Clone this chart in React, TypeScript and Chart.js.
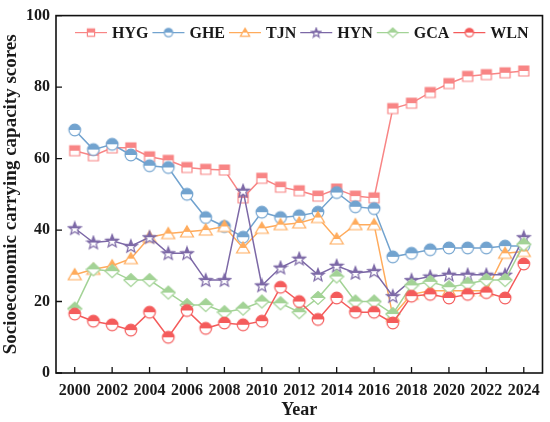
import { useEffect, useRef } from "react";
import { Chart, registerables } from "chart.js";

Chart.register(...registerables);

// Years on the x axis
const years = [
  2000, 2001, 2002, 2003, 2004, 2005, 2006, 2007, 2008, 2009, 2010, 2011, 2012,
  2013, 2014, 2015, 2016, 2017, 2018, 2019, 2020, 2021, 2022, 2023, 2024,
];
const xTickYears = [2000, 2002, 2004, 2006, 2008, 2010, 2012, 2014, 2016, 2018, 2020, 2022, 2024];
const yTickValues = [0, 20, 40, 60, 80, 100];

// Series values
const HYG = [62.2, 60.8, 63, 63, 60.5, 59.5, 57.5, 57, 56.8, 49, 54.5, 52, 51, 49.5, 51.5, 49.5, 49, 74, 75.5, 78.5, 81, 83, 83.5, 84, 84.5];
const GHE = [68, 62.5, 64, 61, 58, 57.5, 50, 43.5, 41, 38, 45, 43.5, 44, 45, 50.5, 46.5, 46, 32.5, 33.5, 34.5, 35, 35, 35, 35.5, 35.5];
const TJN = [27.5, 29, 30, 32, 38, 39, 39.5, 40, 41, 35, 40.5, 41.5, 42, 43.5, 37.5, 41.5, 41.5, 16, 22, 23, 23, 23, 23, 33.5, 34];
const HYN = [40.5, 36.5, 37, 35.5, 38, 33.5, 33.5, 26, 26, 51, 24.5, 29.5, 32, 27.5, 30, 28, 28.5, 21.5, 26, 27, 27.5, 27.5, 27.5, 27.5, 38];
const GCA = [18, 29, 28.5, 26, 26, 22.5, 19, 19, 17, 18, 20, 19.5, 17, 21, 27, 20, 20, 16.5, 24.5, 25.5, 24, 25, 26, 26, 36];
const WLN = [16.5, 14.5, 13.5, 12, 17, 10, 17.5, 12.5, 14, 13.5, 14.5, 24, 20, 15, 21, 17, 17, 14, 21.5, 22, 21, 22, 22.5, 21, 30.5];

const seriesNames = ["HYG", "GHE", "TJN", "HYN", "GCA", "WLN"];
const seriesValues = [HYG, GHE, TJN, HYN, GCA, WLN];
const seriesColors = ["#F88585", "#72A3CF", "#FFAB5C", "#7C68A6", "#A3D396", "#F45B5B"];
const seriesShapes = ["square", "circle", "triangle", "star", "diamond", "circle"];

const FONT = "'Liberation Serif', 'Times New Roman', serif";

// Marker with the upper half filled and the lower half hollow
function makeMarker(shape: string, color: string, k: number) {
  const size = Math.ceil(16 * k);
  const c = document.createElement("canvas");
  c.width = size;
  c.height = size;
  const ctx = c.getContext("2d")!;
  const m = size / 2;
  const p = new Path2D();
  if (shape === "square") {
    const h = 5 * k;
    p.rect(m - h, m - h, h * 2, h * 2);
  } else if (shape === "circle") {
    p.arc(m, m, 5.8 * k, 0, Math.PI * 2);
  } else if (shape === "triangle") {
    p.moveTo(m, m - 6 * k);
    p.lineTo(m + 6.5 * k, m + 5 * k);
    p.lineTo(m - 6.5 * k, m + 5 * k);
    p.closePath();
  } else if (shape === "diamond") {
    p.moveTo(m, m - 6.5 * k);
    p.lineTo(m + 7 * k, m);
    p.lineTo(m, m + 6.5 * k);
    p.lineTo(m - 7 * k, m);
    p.closePath();
  } else {
    const ro = 6.8 * k;
    const ri = 2.9 * k;
    for (let i = 0; i < 10; i++) {
      const r = i % 2 === 0 ? ro : ri;
      const a = -Math.PI / 2 + (i * Math.PI) / 5;
      const px = m + r * Math.cos(a);
      const py = m + 0.5 * k + r * Math.sin(a);
      if (i === 0) p.moveTo(px, py);
      else p.lineTo(px, py);
    }
    p.closePath();
  }
  ctx.fillStyle = "#ffffff";
  ctx.fill(p);
  ctx.save();
  ctx.beginPath();
  ctx.rect(0, 0, size, m);
  ctx.clip();
  ctx.fillStyle = color;
  ctx.fill(p);
  ctx.restore();
  ctx.strokeStyle = color;
  ctx.lineWidth = 1.2;
  ctx.stroke(p);
  return c;
}

// Frame, inward ticks and the line legend inside the plot
const decorPlugin = {
  id: "decor",
  afterDraw(chart: any) {
    const ctx = chart.ctx;
    const { left, right, top, bottom } = chart.chartArea;
    const xs = chart.scales.x;
    const ys = chart.scales.y;
    ctx.save();
    ctx.strokeStyle = "#111";
    ctx.lineWidth = 1.6;
    ctx.strokeRect(left, top, right - left, bottom - top);
    ctx.lineWidth = 1.3;
    ctx.beginPath();
    xTickYears.forEach((v) => {
      const px = xs.getPixelForValue(v);
      ctx.moveTo(px, bottom);
      ctx.lineTo(px, bottom - 6);
    });
    yTickValues.forEach((v) => {
      const py = ys.getPixelForValue(v);
      ctx.moveTo(left, py);
      ctx.lineTo(left + 6, py);
    });
    ctx.stroke();

    // legend
    ctx.font = `bold 16px ${FONT}`;
    ctx.textBaseline = "middle";
    let x = left + 19;
    const y = top + 17;
    chart.data.datasets.forEach((ds: any, i: number) => {
      ctx.strokeStyle = ds.borderColor;
      ctx.lineWidth = 1.2;
      ctx.beginPath();
      ctx.moveTo(x, y);
      ctx.lineTo(x + 32, y);
      ctx.stroke();
      const img = legendMarkers[i];
      ctx.drawImage(img, x + 16 - img.width / 2, y - img.height / 2);
      x += 37;
      ctx.fillStyle = "#1a1a1a";
      ctx.fillText(ds.label, x, y + 1);
      x += ctx.measureText(ds.label).width + 4;
    });
    ctx.restore();
  },
};

let legendMarkers: HTMLCanvasElement[] = [];

export default function App() {
  const chartRef = useRef<HTMLCanvasElement>(null);
  const chartInstance = useRef<Chart | null>(null);

  useEffect(() => {
    document.body.style.margin = "0";
    if (!chartRef.current) return;
    if (chartInstance.current) chartInstance.current.destroy();

    legendMarkers = seriesShapes.map((s, i) => makeMarker(s, seriesColors[i], 0.72));

    const datasets = seriesNames.map((name, i) => ({
      label: name,
      data: years.map((yr, j) => ({ x: yr, y: seriesValues[i][j] })),
      borderColor: seriesColors[i],
      backgroundColor: seriesColors[i],
      borderWidth: 1.5,
      pointStyle: makeMarker(seriesShapes[i], seriesColors[i], 1),
      pointRadius: 6,
      tension: 0,
      order: seriesNames.length - i,
    }));

    const ctx = chartRef.current.getContext("2d");
    if (ctx) {
      chartInstance.current = new Chart(ctx, {
        type: "line",
        data: { datasets },
        options: {
          responsive: true,
          maintainAspectRatio: false,
          animation: false,
          layout: { padding: { top: 12, right: 6, left: 0, bottom: 0 } },
          plugins: {
            legend: { display: false },
            tooltip: { enabled: false },
          },
          scales: {
            x: {
              type: "linear",
              min: 1999,
              max: 2025,
              afterBuildTicks: (scale: any) => {
                scale.ticks = xTickYears.map((v) => ({ value: v }));
              },
              afterFit: (scale: any) => {
                scale.height = 49;
              },
              grid: { display: false, drawTicks: false },
              border: { display: false },
              ticks: {
                padding: 8,
                autoSkip: false,
                maxRotation: 0,
                color: "#1a1a1a",
                font: { family: FONT, size: 16, weight: "bold" },
                callback: (v: any) => String(v),
              },
              title: {
                display: true,
                text: "Year",
                color: "#1a1a1a",
                font: { family: FONT, size: 18, weight: "bold", lineHeight: 1 },
                padding: { top: 0, bottom: 3 },
              },
            },
            y: {
              min: 0,
              max: 100,
              afterBuildTicks: (scale: any) => {
                scale.ticks = yTickValues.map((v) => ({ value: v }));
              },
              afterFit: (scale: any) => {
                scale.width = 56;
              },
              grid: { display: false, drawTicks: false },
              border: { display: false },
              ticks: {
                padding: 6,
                color: "#1a1a1a",
                font: { family: FONT, size: 16, weight: "bold" },
              },
              title: {
                display: true,
                text: "Socioeconomic carrying capacity scores",
                color: "#1a1a1a",
                font: { family: FONT, size: 19, weight: "bold", lineHeight: 1.2 },
                padding: { top: 0, bottom: 0 },
              },
            },
          },
        },
        plugins: [decorPlugin],
      });
    }

    return () => {
      if (chartInstance.current) {
        chartInstance.current.destroy();
        chartInstance.current = null;
      }
    };
  }, []);

  return (
    <div style={{ width: 550, height: 422, position: "relative" }}>
      <canvas ref={chartRef}></canvas>
    </div>
  );
}
